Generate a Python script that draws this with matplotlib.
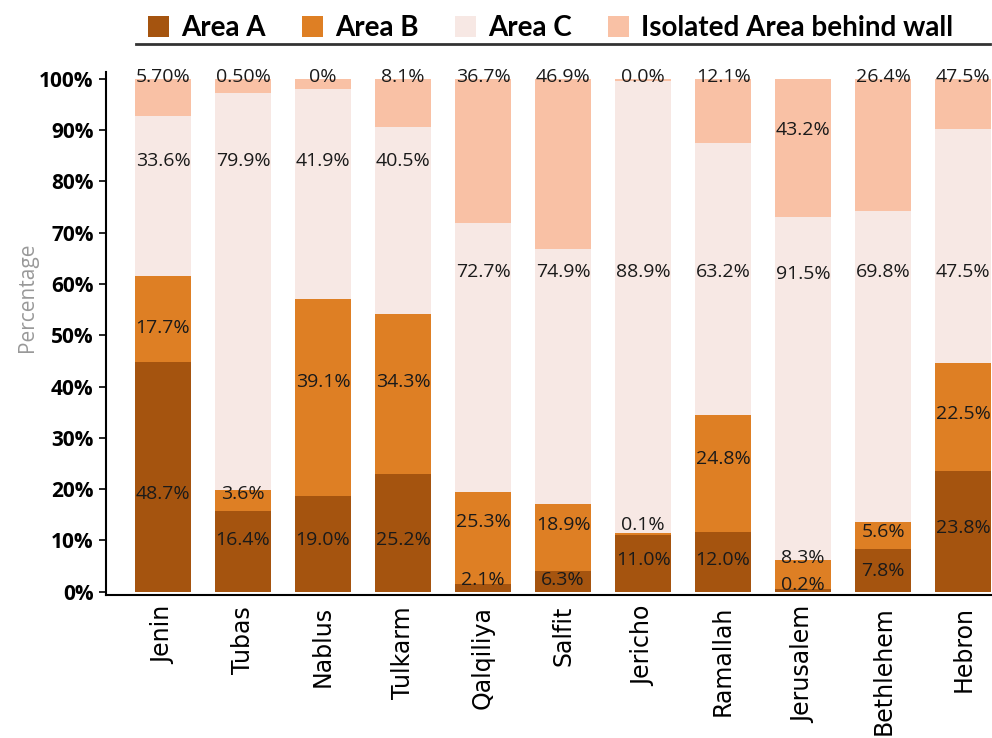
import matplotlib
matplotlib.use("Agg")
import matplotlib.pyplot as plt
from matplotlib.lines import Line2D
from matplotlib.patches import Patch
import numpy as np

# Districts
districts = ["Jenin", "Tubas", "Nablus", "Tulkarm", "Qalqiliya", "Salfit",
             "Jericho", "Ramallah", "Jerusalem", "Bethlehem", "Hebron"]

# Segment heights (% of bar) as drawn
area_a = [44.8, 15.8, 18.7, 23.0, 1.6, 4.1, 11.0, 11.6, 0.5, 8.4, 23.6]
area_b = [16.8, 4.1, 38.3, 31.2, 17.9, 13.1, 0.4, 22.9, 5.6, 5.2, 20.9]
area_c = [31.2, 77.4, 41.1, 36.4, 52.3, 49.7, 88.2, 52.9, 66.9, 60.7, 45.8]
isolated = [7.2, 2.7, 1.9, 9.4, 28.2, 33.1, 0.4, 12.6, 27.0, 25.7, 9.7]

# Printed labels
lab_a = ["48.7%", "16.4%", "19.0%", "25.2%", "2.1%", "6.3%", "11.0%", "12.0%", "0.2%", "7.8%", "23.8%"]
lab_b = ["17.7%", "3.6%", "39.1%", "34.3%", "25.3%", "18.9%", "0.1%", "24.8%", "8.3%", "5.6%", "22.5%"]
lab_c = ["33.6%", "79.9%", "41.9%", "40.5%", "72.7%", "74.9%", "88.9%", "63.2%", "91.5%", "69.8%", "47.5%"]
lab_i = ["5.70%", "0.50%", "0%", "8.1%", "36.7%", "46.9%", "0.0%", "12.1%", "43.2%", "26.4%", "47.5%"]

# where the labels sit (y, in %)
laby_a = [19.0, 10.0, 10.0, 10.0, 2.3, 2.3, 6.2, 6.2, 1.4, 4.1, 12.5]
laby_b = [51.5, 19.1, 40.9, 40.9, 13.5, 13.1, 13.1, 25.9, 6.6, 11.7, 34.7]
laby_c = [84.0, 84.0, 84.0, 84.0, 62.4, 62.4, 62.4, 62.4, 62.0, 62.4, 62.4]
laby_i = [100.4] * 8 + [90.1, 100.4, 100.4]

series = ["Area A", "Area B", "Area C", "Isolated Area behind wall"]
colors = ["#A5540F", "#DE7F24", "#F7E8E4", "#F9C1A5"]

plt.rcParams["font.family"] = ["Open Sans", "DejaVu Sans"]

fig = plt.figure(figsize=(9.92, 7.38), dpi=100)
ax = fig.add_axes([0.107, 0.194, 0.893, 0.709])

x = np.arange(len(districts))
bottom = np.zeros(len(districts))
for vals, col in zip([area_a, area_b, area_c, isolated], colors):
    ax.bar(x, vals, bottom=bottom, width=0.7, color=col, edgecolor="none")
    bottom += np.array(vals)

for labs, ys in [(lab_a, laby_a), (lab_b, laby_b), (lab_c, laby_c), (lab_i, laby_i)]:
    for xi, t, yv in zip(x, labs, ys):
        ax.text(xi, yv, t, ha="center", va="center", fontsize=14, color="#1a1a1a")

ax.set_xlim(-0.71, 10.36)
ax.set_ylim(-0.6, 101.4)
ax.set_yticks(np.arange(0, 101, 10))
ax.set_yticklabels([f"{v}%" for v in range(0, 101, 10)], fontsize=15, fontweight="bold")
ax.set_xticks(x)
ax.set_xticklabels(districts, rotation=90, fontsize=17, family="DejaVu Sans", va="top")
ax.tick_params(axis="x", length=0, pad=8)
ax.tick_params(axis="y", length=5, width=1.2, pad=4)
for s in ["top", "right"]:
    ax.spines[s].set_visible(False)
ax.spines["left"].set_linewidth(1.5)
ax.spines["bottom"].set_linewidth(1.5)

ax.set_ylabel("Percentage", fontsize=15, color="#999999")
ax.yaxis.set_label_coords(-0.077, 0.568)

handles = [Patch(facecolor=c, edgecolor="none") for c in colors]
fig.legend(handles, series, loc="center", bbox_to_anchor=(0.555, 0.962), ncol=4,
           frameon=False, prop={"family": "Lato", "weight": "bold", "size": 20},
           handlelength=0.75, handleheight=0.75, handletextpad=0.45, columnspacing=1.3)
fig.add_artist(Line2D([0.137, 0.998], [0.941, 0.941], color="#333333", lw=2))

fig.savefig("out.png", dpi=100)
